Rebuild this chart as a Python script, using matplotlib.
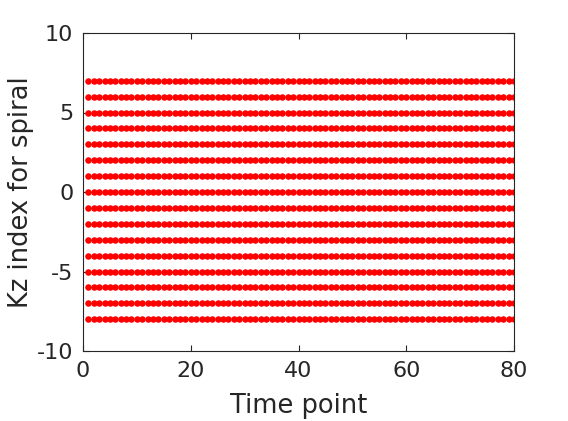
import matplotlib
matplotlib.use('Agg')
import matplotlib.pyplot as plt
import numpy as np

# Data: time points and kz indices for the spiral
time_points = np.arange(1, 81)
kz_indices = np.arange(-8, 8)

xticks = [0, 20, 40, 60, 80]
yticks = [-10, -5, 0, 5, 10]

plt.rcParams['font.family'] = 'DejaVu Sans'
fig = plt.figure(figsize=(5.68, 4.21), dpi=100)
ax = fig.add_axes([83/568, 1 - 351/421, (514-83)/568, (351-33)/421])

tt, kk = np.meshgrid(time_points, kz_indices)
ax.plot(tt.ravel(), kk.ravel(), 'o', color='red', markersize=4.7,
        markeredgewidth=0, linestyle='none')

ax.set_xlim(0, 80)
ax.set_ylim(-10, 10)
ax.set_xticks(xticks)
ax.set_yticks(yticks)
ax.set_yticklabels([str(v) for v in yticks])

dark = '#262626'
ax.tick_params(direction='in', length=4, width=0.8, colors=dark,
               labelsize=16, top=True, right=True, pad=7)
for s in ax.spines.values():
    s.set_color(dark)
    s.set_linewidth(0.8)

ax.set_xlabel('Time point', fontsize=18.5, color=dark, labelpad=9)
ax.set_ylabel('Kz index for spiral', fontsize=18.5, color=dark, labelpad=2)

fig.savefig('out.png', dpi=100)
